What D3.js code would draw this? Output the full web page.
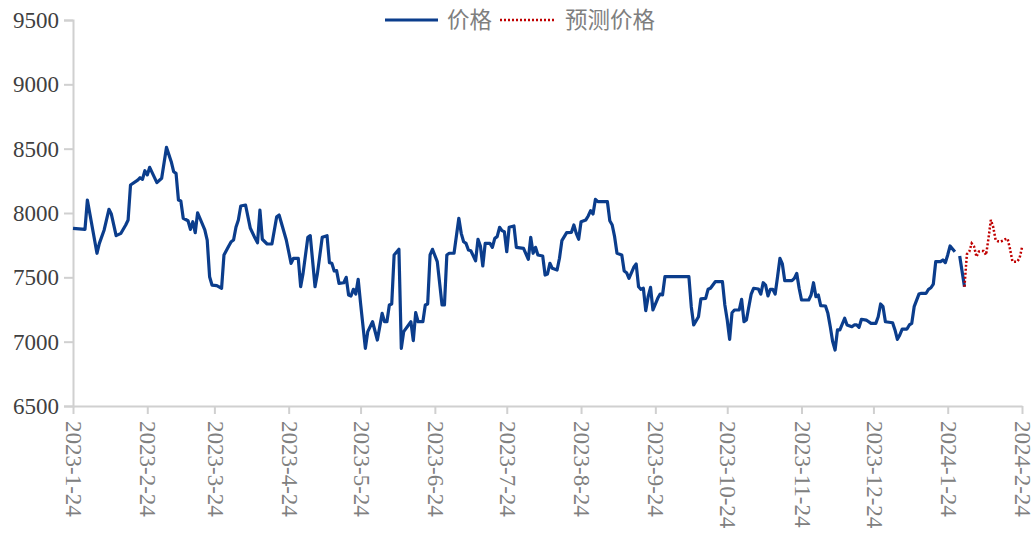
<!DOCTYPE html>
<html>
<head>
<meta charset="utf-8">
<script src="https://cdn.jsdelivr.net/npm/d3@7/dist/d3.min.js"></script>
<style>
  html, body { margin: 0; padding: 0; background: #ffffff; }
  svg { display: block; }
</style>
</head>
<body>
<svg id="chart" width="1036" height="534"></svg>
<script>
// Daily price series (null marks a missing day in the record)
const priceDates = [
  "2023-01-24","2023-01-29","2023-01-30","2023-02-03","2023-02-04","2023-02-06","2023-02-08","2023-02-09","2023-02-11","2023-02-13",
  "2023-02-15","2023-02-16","2023-02-17","2023-02-20","2023-02-21","2023-02-22","2023-02-23","2023-02-24","2023-02-25","2023-02-28",
  "2023-03-02","2023-03-04","2023-03-06","2023-03-07","2023-03-08","2023-03-09","2023-03-10","2023-03-11","2023-03-13","2023-03-14",
  "2023-03-15","2023-03-16","2023-03-17","2023-03-20","2023-03-21","2023-03-22","2023-03-23","2023-03-25","2023-03-27","2023-03-28",
  "2023-03-30","2023-03-31","2023-04-01","2023-04-02","2023-04-03","2023-04-04","2023-04-06","2023-04-08","2023-04-10","2023-04-11",
  "2023-04-12","2023-04-13","2023-04-15","2023-04-17","2023-04-19","2023-04-20","2023-04-23","2023-04-25","2023-04-26","2023-04-28",
  "2023-04-29","2023-04-30","2023-05-02","2023-05-03","2023-05-05","2023-05-06","2023-05-08","2023-05-10","2023-05-11","2023-05-12",
  "2023-05-13","2023-05-14","2023-05-15","2023-05-17","2023-05-18","2023-05-19","2023-05-20","2023-05-21","2023-05-22","2023-05-23",
  "2023-05-24","2023-05-26","2023-05-27","2023-05-29","2023-05-31","2023-06-02","2023-06-03","2023-06-04","2023-06-05","2023-06-06",
  "2023-06-07","2023-06-09","2023-06-10","2023-06-11","2023-06-14","2023-06-15","2023-06-16","2023-06-17","2023-06-19","2023-06-20",
  "2023-06-21","2023-06-22","2023-06-23","2023-06-25","2023-06-27","2023-06-28","2023-06-29","2023-06-30","2023-07-02","2023-07-04",
  "2023-07-05","2023-07-06","2023-07-07","2023-07-08","2023-07-09","2023-07-11","2023-07-12","2023-07-13","2023-07-14","2023-07-15",
  "2023-07-17","2023-07-18","2023-07-19","2023-07-20","2023-07-21","2023-07-22","2023-07-23","2023-07-24","2023-07-25","2023-07-27",
  "2023-07-28","2023-07-31","2023-08-02","2023-08-03","2023-08-04","2023-08-05","2023-08-06","2023-08-08","2023-08-09","2023-08-10",
  "2023-08-11","2023-08-12","2023-08-14","2023-08-15","2023-08-16","2023-08-18","2023-08-20","2023-08-21","2023-08-22","2023-08-23",
  "2023-08-24","2023-08-26","2023-08-27","2023-08-28","2023-08-29","2023-08-30","2023-08-31","2023-09-04","2023-09-05","2023-09-06",
  "2023-09-07","2023-09-08","2023-09-10","2023-09-11","2023-09-12","2023-09-13","2023-09-15","2023-09-16","2023-09-17","2023-09-18",
  "2023-09-19","2023-09-20","2023-09-21","2023-09-22","2023-09-23","2023-09-25","2023-09-26","2023-09-27","2023-09-28","2023-10-08",
  "2023-10-09","2023-10-10","2023-10-12","2023-10-13","2023-10-15","2023-10-16","2023-10-17","2023-10-19","2023-10-22","2023-10-23",
  "2023-10-24","2023-10-25","2023-10-26","2023-10-27","2023-10-29","2023-10-30","2023-10-31","2023-11-01","2023-11-03","2023-11-04",
  "2023-11-06","2023-11-07","2023-11-08","2023-11-09","2023-11-10","2023-11-11","2023-11-12","2023-11-13","2023-11-14","2023-11-15",
  "2023-11-16","2023-11-17","2023-11-20","2023-11-21","2023-11-22","2023-11-23","2023-11-24","2023-11-27","2023-11-28","2023-11-29",
  "2023-11-30","2023-12-01","2023-12-02","2023-12-04","2023-12-05","2023-12-06","2023-12-07","2023-12-08","2023-12-09","2023-12-10",
  "2023-12-12","2023-12-13","2023-12-15","2023-12-16","2023-12-17","2023-12-18","2023-12-19","2023-12-21","2023-12-23","2023-12-25",
  "2023-12-26","2023-12-27","2023-12-28","2023-12-29","2024-01-01","2024-01-02","2024-01-03","2024-01-04","2024-01-05","2024-01-07",
  "2024-01-08","2024-01-09","2024-01-10","2024-01-12","2024-01-13","2024-01-15","2024-01-16","2024-01-17","2024-01-18","2024-01-19",
  "2024-01-21","2024-01-22","2024-01-23","2024-01-24","2024-01-25","2024-01-27","2024-01-28","2024-01-29","2024-01-31"
];
const priceValues = [
  7881,7873,8101,7687,7764,7868,8029,7992,7824,7842,
  7907,7946,8218,8256,8274,8262,8329,8296,8355,8236,
  8270,8510,8399,8321,8308,8101,8093,7959,7940,7873,
  7932,7847,8002,7868,7790,7505,7440,7435,7415,7674,
  7744,7777,7790,7889,7946,8054,8062,7881,7803,7769,
  8023,7796,7759,7759,7971,7984,7790,7609,7648,7648,
  7427,7531,7811,7824,7427,7531,7811,7824,7614,7609,
  7549,7552,7453,7458,7500,7363,7355,7407,7370,7485,
  7298,6948,7078,7155,7013,7220,7155,7155,7285,7293,
  7674,7718,6948,7078,7155,7008,7225,7155,7155,7285,
  7293,7674,7718,7622,7285,7285,7674,7687,7687,7959,
  7842,7777,7764,7712,7707,7629,7796,7744,7588,7764,
  7764,7733,7803,7816,7889,7863,7855,7699,7889,7899,
  7733,7725,7640,7811,7687,7733,7674,7666,7518,7526,
  7609,7570,7557,7648,7785,7847,7850,7907,7842,7796,
  7932,7946,7977,8018,7992,8106,8088,8088,7940,7907,
  7816,7687,7674,7549,7536,7492,7578,7604,7427,7407,
  7415,7241,7350,7422,7246,7337,7370,7363,7505,7505,
  7272,7130,7194,7332,7337,7407,7415,7466,7466,7285,
  7168,7018,7225,7246,7246,7329,7155,7168,7370,7415,
  7409,7370,7458,7440,7355,7407,7407,7370,7505,7648,
  7604,7474,7474,7492,7531,7415,7324,7324,7363,7458,
  7350,7363,7280,7277,7220,7116,7000,6935,7091,7091,
  7182,7130,7116,7130,7130,7111,7174,7168,7142,7142,
  7194,7293,7272,7155,7147,7091,7018,7052,7098,7098,
  7130,7142,7272,7370,7376,7376,7407,7419,7448,7622,
  7622,7635,7614,7674,7744,7699,null,7666,7427
];

// Forecast series
const forecastDates = [
  "2024-01-31","2024-02-01","2024-02-02","2024-02-03","2024-02-04","2024-02-05","2024-02-06","2024-02-07","2024-02-08","2024-02-09",
  "2024-02-10","2024-02-11","2024-02-12","2024-02-13","2024-02-14","2024-02-15","2024-02-16","2024-02-17","2024-02-18","2024-02-19",
  "2024-02-20","2024-02-21","2024-02-22","2024-02-23","2024-02-24"
];
const forecastValues = [
  7427,7680,7700,7764,7740,7660,7700,7705,7704,7674,
  7800,7946,7890,7790,7780,7777,7785,7796,7800,7720,
  7625,7622,7622,7650,7733
];

// Axis ticks
const xTickDates = [
  "2023-01-24","2023-02-24","2023-03-24","2023-04-24","2023-05-24","2023-06-24","2023-07-24",
  "2023-08-24","2023-09-24","2023-10-24","2023-11-24","2023-12-24","2024-01-24","2024-02-24"
];
const xTickLabels = [
  "2023-1-24","2023-2-24","2023-3-24","2023-4-24","2023-5-24","2023-6-24","2023-7-24",
  "2023-8-24","2023-9-24","2023-10-24","2023-11-24","2023-12-24","2024-1-24","2024-2-24"
];
const yTicks = [6500, 7000, 7500, 8000, 8500, 9000, 9500];

const seriesNames = ["价格", "预测价格"];

const parse = d3.timeParse("%Y-%m-%d");
const price = priceDates.map((d, i) => ({ date: parse(d), value: priceValues[i] }));
const forecast = forecastDates.map((d, i) => ({ date: parse(d), value: forecastValues[i] }));
const tickDates = xTickDates.map(parse);

const svg = d3.select("#chart");
const plotLeft = 73, plotRight = 1022, plotTop = 20, plotBottom = 406;

const x = d3.scaleTime()
  .domain([parse("2023-01-24"), parse("2024-02-24")])
  .range([plotLeft, plotRight]);
const y = d3.scaleLinear()
  .domain([6500, 9500])
  .range([plotBottom, plotTop]);

const BLUE = "#0b3d8c";
const RED = "#c00000";
const AXIS = "#d0d0d0";
const serif = "'Liberation Serif', 'Times New Roman', serif";

// Y axis
const yAxis = svg.append("g")
  .attr("transform", `translate(${plotLeft},0)`)
  .call(d3.axisLeft(y).tickValues(yTicks).tickSize(9).tickPadding(5).tickFormat(d3.format("d")));
yAxis.select(".domain").attr("stroke", AXIS).attr("stroke-width", 2);
yAxis.selectAll(".tick line").attr("stroke", AXIS).attr("stroke-width", 2);
yAxis.selectAll("text")
  .attr("fill", "#404040")
  .style("font-family", serif)
  .style("font-size", "23px");

// X axis
const fmt = new Map(xTickDates.map((d, i) => [+parse(d), xTickLabels[i]]));
const xAxis = svg.append("g")
  .attr("transform", `translate(0,${plotBottom})`)
  .call(d3.axisBottom(x).tickValues(tickDates).tickSize(8).tickSizeOuter(0)
    .tickFormat(d => fmt.get(+d)));
xAxis.select(".domain").attr("stroke", AXIS).attr("stroke-width", 2);
xAxis.selectAll(".tick line").attr("stroke", AXIS).attr("stroke-width", 2);
xAxis.selectAll("text")
  .attr("fill", "#808080")
  .style("font-family", serif)
  .style("font-size", "23px")
  .attr("text-anchor", "start")
  .attr("transform", "rotate(90)")
  .attr("x", 15)
  .attr("y", 0)
  .attr("dy", "0.32em");

// Lines
const line = d3.line()
  .defined(d => d.value !== null)
  .x(d => x(d.date))
  .y(d => y(d.value));

svg.append("path")
  .datum(price)
  .attr("fill", "none")
  .attr("stroke", BLUE)
  .attr("stroke-width", 3.2)
  .attr("stroke-linejoin", "round")
  .attr("d", line);

svg.append("path")
  .datum(forecast)
  .attr("fill", "none")
  .attr("stroke", RED)
  .attr("stroke-width", 2.5)
  .attr("stroke-dasharray", "2,2")
  .attr("d", line);

// Legend
const legend = svg.append("g").attr("transform", "translate(385,20)");
legend.append("line")
  .attr("x1", 0).attr("x2", 53).attr("y1", 0).attr("y2", 0)
  .attr("stroke", BLUE).attr("stroke-width", 3.2);
legend.append("text")
  .attr("x", 62).attr("y", 0).attr("dy", "0.35em")
  .attr("fill", "#7f7f7f")
  .style("font-family", "'Noto Sans CJK SC', sans-serif")
  .style("font-size", "22.5px")
  .text(seriesNames[0]);
legend.append("line")
  .attr("x1", 115).attr("x2", 170).attr("y1", 0).attr("y2", 0)
  .attr("stroke", RED).attr("stroke-width", 2.5).attr("stroke-dasharray", "2,2");
legend.append("text")
  .attr("x", 180).attr("y", 0).attr("dy", "0.35em")
  .attr("fill", "#7f7f7f")
  .style("font-family", "'Noto Sans CJK SC', sans-serif")
  .style("font-size", "22.5px")
  .text(seriesNames[1]);
</script>
</body>
</html>
